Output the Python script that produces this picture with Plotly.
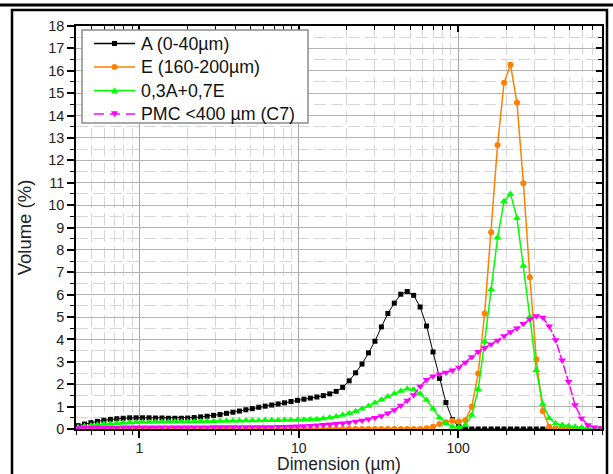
import plotly.graph_objects as go

# Size classes (µm)
sizes = [0.412, 0.452, 0.496, 0.545, 0.598, 0.657, 0.721, 0.791, 0.869, 0.953,
         1.047, 1.149, 1.261, 1.385, 1.520, 1.669, 1.832, 2.010, 2.207, 2.423,
         2.660, 2.920, 3.205, 3.519, 3.863, 4.240, 4.655, 5.110, 5.610, 6.158,
         6.760, 7.421, 8.147, 8.943, 9.818, 10.78, 11.83, 12.99, 14.26, 15.65,
         17.18, 18.86, 20.71, 22.73, 24.95, 27.39, 30.07, 33.01, 36.24, 39.78,
         43.67, 47.94, 52.62, 57.77, 63.41, 69.61, 76.42, 83.89, 92.09, 101.1,
         111.0, 121.8, 133.7, 146.8, 161.2, 176.9, 194.2, 213.2, 234.1, 256.9,
         282.1, 309.6, 339.9, 373.1, 409.6, 449.7, 493.6, 541.9, 594.9, 653.0,
         716.8, 786.9]

vol_A = [0.15, 0.22, 0.28, 0.34, 0.39, 0.43, 0.46, 0.48, 0.50, 0.50,
         0.50, 0.50, 0.49, 0.49, 0.48, 0.48, 0.48, 0.49, 0.51, 0.54,
         0.57, 0.61, 0.65, 0.70, 0.75, 0.80, 0.86, 0.91, 0.97, 1.02,
         1.07, 1.12, 1.17, 1.23, 1.28, 1.33, 1.38, 1.43, 1.49, 1.57,
         1.68, 1.86, 2.15, 2.51, 2.90, 3.40, 3.92, 4.56, 5.16, 5.62,
         6.02, 6.14, 5.97, 5.45, 4.60, 3.44, 2.26, 1.18, 0.42, 0.10,
         0, 0, 0, 0, 0, 0, 0, 0, 0, 0,
         0, 0, 0, 0, 0, 0, 0, 0, 0, 0,
         0, 0]

vol_E = [0, 0, 0, 0, 0, 0, 0, 0, 0, 0,
         0, 0, 0, 0, 0, 0, 0, 0, 0, 0,
         0, 0, 0, 0, 0, 0, 0, 0, 0, 0,
         0, 0, 0, 0, 0, 0, 0, 0, 0, 0,
         0, 0, 0, 0, 0, 0, 0, 0, 0, 0,
         0, 0, 0, 0, 0.03, 0.10, 0.22, 0.30, 0.37, 0.33,
         0.40, 0.99, 2.48, 5.16, 8.79, 12.69, 15.46, 16.27, 14.57, 10.98,
         6.78, 3.12, 0.80, 0.10, 0, 0, 0, 0, 0, 0,
         0, 0]

vol_mix = [0.08, 0.12, 0.16, 0.19, 0.22, 0.24, 0.26, 0.28, 0.29, 0.30,
           0.31, 0.31, 0.32, 0.32, 0.32, 0.33, 0.33, 0.33, 0.34, 0.34,
           0.35, 0.35, 0.36, 0.36, 0.37, 0.37, 0.38, 0.38, 0.38, 0.39,
           0.39, 0.39, 0.40, 0.40, 0.40, 0.41, 0.42, 0.44, 0.47, 0.51,
           0.56, 0.62, 0.70, 0.79, 0.90, 1.03, 1.17, 1.31, 1.45, 1.58,
           1.70, 1.80, 1.76, 1.58, 1.30, 0.90, 0.50, 0.25, 0.10, 0.07,
           0.18, 0.62, 1.77, 3.90, 6.23, 8.55, 10.17, 10.50, 9.42, 7.28,
           5.00, 2.62, 1.12, 0.48, 0.25, 0.18, 0.13, 0.10, 0.06, 0.03,
           0.01, 0.00]

vol_PMC = [0.05, 0.06, 0.06, 0.07, 0.07, 0.07, 0.07, 0.08, 0.08, 0.08,
           0.08, 0.08, 0.08, 0.08, 0.08, 0.08, 0.08, 0.08, 0.08, 0.08,
           0.08, 0.09, 0.09, 0.09, 0.09, 0.09, 0.09, 0.09, 0.09, 0.09,
           0.09, 0.10, 0.10, 0.11, 0.12, 0.13, 0.15, 0.17, 0.19, 0.21,
           0.23, 0.26, 0.29, 0.33, 0.38, 0.43, 0.50, 0.58, 0.70, 0.85,
           1.05, 1.27, 1.52, 1.90, 2.20, 2.36, 2.45, 2.52, 2.62, 2.75,
           2.97, 3.22, 3.45, 3.62, 3.78, 3.95, 4.15, 4.33, 4.50, 4.70,
           4.90, 5.05, 4.98, 4.59, 3.97, 3.07, 2.11, 1.07, 0.48, 0.18,
           0.08, 0.05]

names = ["A (0-40µm)", "E (160-200µm)", "0,3A+0,7E", "PMC <400 µm (C7)"]
colors = ["#000000", "#FF8000", "#00FF00", "#FF00FF"]
y_ticks = list(range(0, 19))

FONT = "Arial, Liberation Sans, sans-serif"

fig = go.Figure()
fig.add_trace(go.Scatter(x=sizes, y=vol_A, name=names[0], mode="lines+markers",
                         line=dict(color=colors[0], width=1),
                         marker=dict(symbol="square", size=5, color=colors[0])))
fig.add_trace(go.Scatter(x=sizes, y=vol_E, name=names[1], mode="lines+markers",
                         line=dict(color=colors[1], width=1.5),
                         marker=dict(symbol="circle", size=6, color=colors[1])))
fig.add_trace(go.Scatter(x=sizes, y=vol_mix, name=names[2], mode="lines+markers",
                         line=dict(color=colors[2], width=1.5),
                         marker=dict(symbol="triangle-up", size=7, color=colors[2])))
fig.add_trace(go.Scatter(x=sizes, y=vol_PMC, name=names[3], mode="lines+markers",
                         line=dict(color=colors[3], width=1.5, dash="9px,2px"),
                         marker=dict(symbol="triangle-down", size=7, color=colors[3])))
# invisible helper for mirrored (inward-tick) axes
fig.add_trace(go.Scatter(x=[1], y=[0], xaxis="x2", yaxis="y2", mode="markers",
                         marker=dict(opacity=0), showlegend=False, hoverinfo="skip"))

W, H = 613, 474
L, R, T, B = 76, 11, 26, 45
pw, ph = W - L - R, H - T - B

def px(x):
    return (x - L) / pw

def py(y):
    return (H - B - y) / ph

xr = [-0.39794, 2.90309]

# ---- hand-built legend (box, samples, labels), positioned in figure pixels ----
leg_x0, leg_x1, leg_y0, leg_y1 = 82, 308, 30, 123
row_y = [43.5, 67, 90.5, 114]
ln_x0, ln_x1, mk_x = 94, 135, 114.5
txt_x = 139

shapes = [
    dict(type="rect", xref="paper", yref="paper",
         x0=px(leg_x0), x1=px(leg_x1), y0=py(leg_y1), y1=py(leg_y0),
         line=dict(color="#8c8c8c", width=1.5), fillcolor="white", layer="above"),
]
annotations = []
for k, (nm, col, ry) in enumerate(zip(names, colors, row_y)):
    dash = "10px,6px" if k == 3 else "solid"
    shapes.append(dict(type="line", xref="paper", yref="paper",
                       x0=px(ln_x0), x1=px(ln_x1), y0=py(ry), y1=py(ry),
                       line=dict(color=col, width=1.5, dash=dash), layer="above"))
    if k == 0:
        s = 2.5
        shapes.append(dict(type="rect", xref="paper", yref="paper",
                           x0=px(mk_x - s), x1=px(mk_x + s), y0=py(ry + s), y1=py(ry - s),
                           line=dict(width=0), fillcolor=col, layer="above"))
    elif k == 1:
        s = 3
        shapes.append(dict(type="circle", xref="paper", yref="paper",
                           x0=px(mk_x - s), x1=px(mk_x + s), y0=py(ry + s), y1=py(ry - s),
                           line=dict(width=0), fillcolor=col, layer="above"))
    elif k == 2:
        s = 3.5
        path = "M {:.5f},{:.5f} L {:.5f},{:.5f} L {:.5f},{:.5f} Z".format(
            px(mk_x - s), py(ry + s * 0.8), px(mk_x + s), py(ry + s * 0.8),
            px(mk_x), py(ry - s * 0.9))
        shapes.append(dict(type="path", xref="paper", yref="paper", path=path,
                           line=dict(width=0), fillcolor=col, layer="above"))
    else:
        s = 3.5
        path = "M {:.5f},{:.5f} L {:.5f},{:.5f} L {:.5f},{:.5f} Z".format(
            px(mk_x - s), py(ry - s * 0.8), px(mk_x + s), py(ry - s * 0.8),
            px(mk_x), py(ry + s * 0.9))
        shapes.append(dict(type="path", xref="paper", yref="paper", path=path,
                           line=dict(width=0), fillcolor=col, layer="above"))
    annotations.append(dict(text=nm, xref="paper", yref="paper",
                            x=px(txt_x), y=py(ry), xanchor="left", yanchor="middle",
                            showarrow=False, font=dict(size=17.8, color="#111111",
                                                       family=FONT)))

# outer frame and top rule
shapes += [
    dict(type="rect", xref="paper", yref="paper",
         x0=px(12), x1=px(607), y0=py(480), y1=py(10),
         line=dict(color="black", width=2.5), fillcolor="rgba(0,0,0,0)", layer="above"),
    dict(type="line", xref="paper", yref="paper",
         x0=px(0), x1=px(613), y0=py(5), y1=py(5),
         line=dict(color="black", width=3), layer="above"),
]

fig.update_layout(
    template="none",
    width=W, height=H,
    margin=dict(l=L, r=R, t=T, b=B, autoexpand=False),
    paper_bgcolor="white", plot_bgcolor="white",
    font=dict(family=FONT, size=15, color="#222222"),
    showlegend=False,
    xaxis=dict(type="log", range=xr, dtick=1, automargin=False,
               showline=True, linecolor="black", linewidth=1.5,
               ticks="outside", ticklen=7, tickwidth=1.5, tickcolor="black",
               tickfont=dict(size=14), ticklabelstandoff=-2,
               showgrid=True, gridcolor="#a8a8a8", gridwidth=1,
               zeroline=False,
               minor=dict(ticks="outside", ticklen=4, tickwidth=1, tickcolor="black",
                          showgrid=True, gridcolor="#d6d6d6", gridwidth=1,
                          griddash="12px,5px"),
               title=dict(text="Dimension (µm)", font=dict(size=17.5, color="#222222"),
                          standoff=4)),
    yaxis=dict(range=[0, 18], tickvals=y_ticks, automargin=False,
               showline=True, linecolor="black", linewidth=1.5,
               ticks="outside", ticklen=7, tickwidth=1.5, tickcolor="black",
               tickfont=dict(size=14.5),
               showgrid=True, gridcolor="#b4b4b4", gridwidth=1,
               zeroline=False,
               minor=dict(dtick=0.5, ticks="outside", ticklen=4, tickwidth=1, tickcolor="black",
                          showgrid=True, gridcolor="#d6d6d6", gridwidth=1,
                          griddash="12px,5px"),
               title=dict(text="Volume (%)", font=dict(size=18.5, color="#222222"),
                          standoff=12)),
    xaxis2=dict(type="log", range=xr, dtick=1, overlaying="x", side="top", anchor="y",
                automargin=False,
                showline=True, linecolor="black", linewidth=1.5,
                ticks="inside", ticklen=6, tickwidth=1.5, tickcolor="black",
                showticklabels=False, showgrid=False, zeroline=False,
                minor=dict(ticks="inside", ticklen=4, tickwidth=1, tickcolor="black",
                           showgrid=False)),
    yaxis2=dict(range=[0, 18], dtick=1, overlaying="y", side="right", anchor="x",
                automargin=False,
                showline=True, linecolor="black", linewidth=1.5,
                ticks="inside", ticklen=6, tickwidth=1.5, tickcolor="black",
                showticklabels=False, showgrid=False, zeroline=False,
                minor=dict(dtick=0.5, ticks="inside", ticklen=4, tickwidth=1,
                           tickcolor="black", showgrid=False)),
    shapes=shapes,
    annotations=annotations,
)

fig.write_html("out.html",
               config={"displayModeBar": False},
               post_script="document.body.style.margin='0';document.body.style.padding='0';")
